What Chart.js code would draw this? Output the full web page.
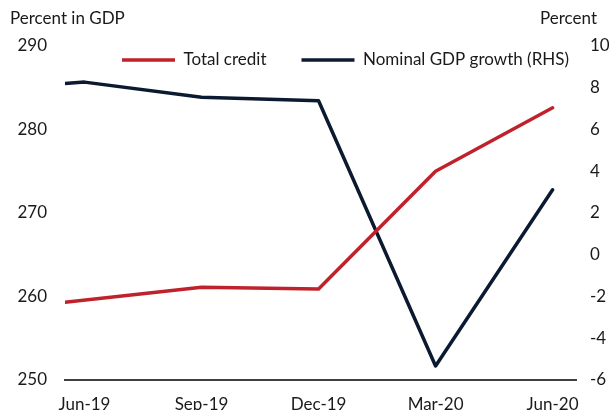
<!DOCTYPE html>
<html>
<head>
<meta charset="utf-8">
<script src="https://cdn.jsdelivr.net/npm/chart.js@4/dist/chart.umd.min.js"></script>
<style>
  html, body { margin: 0; padding: 0; background: #ffffff; }
  #wrap { width: 609px; height: 410px; }
</style>
</head>
<body>
<div id="wrap"><canvas id="c" width="609" height="410"></canvas></div>
<script>
// Month offsets relative to Jun-19 (0 = Jun-19, 3 = Sep-19, ...)
const creditMonths = [-0.5, 3, 6, 9, 12];
const creditValues = [259.3, 261.1, 260.9, 275.0, 282.6];
const gdpMonths = [-0.5, 0, 3, 6, 9, 12];
const gdpValues = [8.2, 8.27, 7.55, 7.38, -5.33, 3.11];
const tickMonths = [0, 3, 6, 9, 12];
const tickLabels = ['Jun-19', 'Sep-19', 'Dec-19', 'Mar-20', 'Jun-20'];
const leftTitle = 'Percent in GDP';
const rightTitle = 'Percent';

const FONT = 'Lato';
const FS = 17;
const TXT = '#1a1a1a';
const LEG_PAD = 35;

const titlesPlugin = {
  id: 'axisTitles',
  afterLayout(chart) {
    const lg = chart.legend;
    if (lg && lg.lineWidths) {
      const cursorX = (lg.left + LEG_PAD + lg.right - lg.lineWidths[0]) / 2;
      const dx = 122 - cursorX;
      const curMid = lg.top + LEG_PAD + FS / 2;
      const dy = 60 - curMid;
      lg.left += dx; lg.right += dx;
      lg.top += dy; lg.bottom += dy;
    }
  },
  afterDraw(chart) {
    const ctx = chart.ctx;
    ctx.save();
    ctx.font = FS + 'px ' + FONT;
    ctx.fillStyle = TXT;
    ctx.textBaseline = 'middle';
    ctx.textAlign = 'left';
    ctx.fillText(leftTitle, 10, 19);
    ctx.textAlign = 'right';
    ctx.fillText(rightTitle, 597, 19);
    ctx.restore();
  }
};

const toPts = (xs, ys) => xs.map((x, i) => ({x: x, y: ys[i]}));

new Chart(document.getElementById('c'), {
  type: 'line',
  data: {
    datasets: [
      {
        label: 'Total credit',
        data: toPts(creditMonths, creditValues),
        borderColor: '#c0222b',
        backgroundColor: '#c0222b',
        borderWidth: 3.5,
        pointRadius: 0,
        tension: 0,
        yAxisID: 'y',
        borderCapStyle: 'round',
        borderJoinStyle: 'round'
      },
      {
        label: 'Nominal GDP growth (RHS)',
        data: toPts(gdpMonths, gdpValues),
        borderColor: '#0b1a30',
        backgroundColor: '#0b1a30',
        borderWidth: 3.5,
        pointRadius: 0,
        tension: 0,
        yAxisID: 'y1',
        borderCapStyle: 'round',
        borderJoinStyle: 'round'
      }
    ]
  },
  options: {
    responsive: false,
    animation: false,
    layout: { padding: { top: 46 - (FS + LEG_PAD + 10), bottom: 0, left: 0, right: 0 } },
    plugins: {
      legend: {
        position: 'top',
        align: 'center',
        labels: {
          usePointStyle: true,
          pointStyle: 'line',
          pointStyleWidth: 53,
          boxWidth: 53,
          boxHeight: 4,
          padding: LEG_PAD,
          color: TXT,
          font: { family: FONT, size: FS }
        }
      },
      tooltip: { enabled: false }
    },
    scales: {
      x: {
        type: 'linear',
        min: -0.5,
        max: 12.6,
        afterBuildTicks(scale) { scale.ticks = tickMonths.map(v => ({value: v})); },
        afterFit(scale) { scale.height = 30; },
        ticks: {
          autoSkip: false,
          maxRotation: 0,
          padding: 14,
          color: TXT,
          font: { family: FONT, size: FS },
          callback: (v) => { const i = tickMonths.indexOf(v); return i >= 0 ? tickLabels[i] : ''; }
        },
        grid: { display: false, drawTicks: false, tickLength: 0 },
        border: { display: true, color: '#404040', width: 2 }
      },
      y: {
        position: 'left',
        min: 250,
        max: 290,
        afterFit(scale) { scale.width = 65; },
        ticks: {
          stepSize: 10,
          padding: 18,
          color: TXT,
          font: { family: FONT, size: FS }
        },
        grid: { display: false, drawTicks: false, tickLength: 0 },
        border: { display: false }
      },
      y1: {
        position: 'right',
        min: -6,
        max: 10,
        afterFit(scale) { scale.width = 33; },
        ticks: {
          stepSize: 2,
          padding: 14,
          color: TXT,
          font: { family: FONT, size: FS }
        },
        grid: { display: false, drawTicks: false, tickLength: 0 },
        border: { display: false }
      }
    }
  },
  plugins: [titlesPlugin]
});
</script>
</body>
</html>
